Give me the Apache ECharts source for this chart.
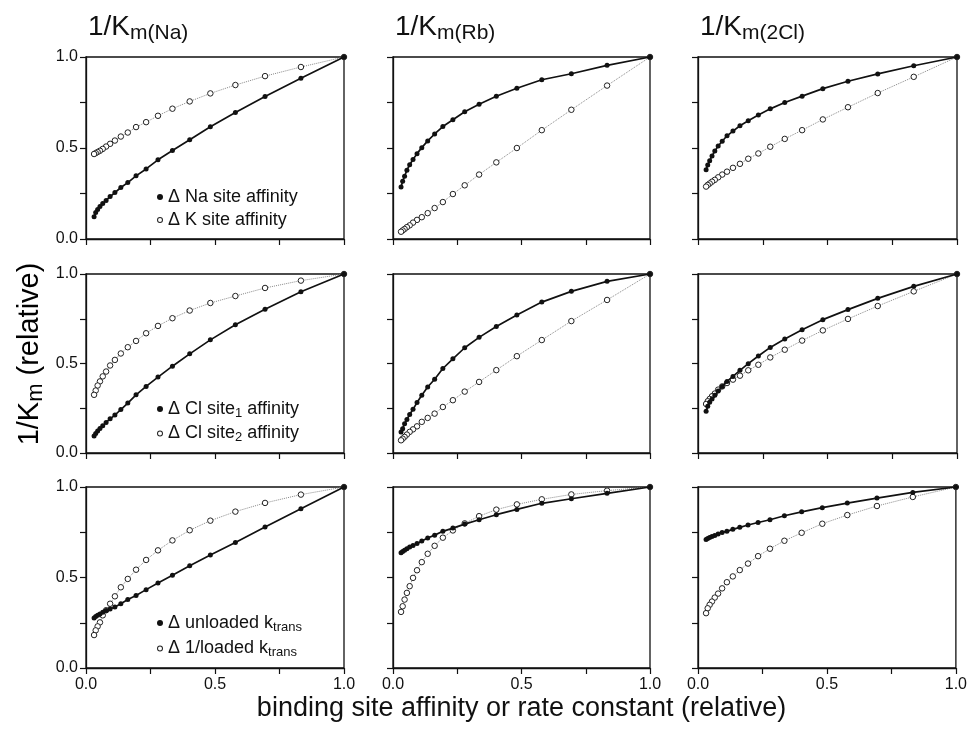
<!DOCTYPE html>
<html><head><meta charset="utf-8">
<script src="https://cdn.jsdelivr.net/npm/echarts@6/dist/echarts.min.js"></script>
<style>html,body{margin:0;padding:0;background:#fff}#c{width:970px;height:734px}</style>
</head><body><div id="c"></div><script>
// ---- data ----
const xVals = [1, 0.833, 0.694, 0.579, 0.482, 0.402, 0.335, 0.279, 0.233, 0.194, 0.162, 0.135, 0.112, 0.0935, 0.0779, 0.0649, 0.0541, 0.0451, 0.0376, 0.0313];
const colTitles = ['Na', 'Rb', '2Cl'];
const tickLabels = ['0.0', '0.5', '1.0'];
const rowSeriesNames = [
  ['Δ Na site affinity', 'Δ K site affinity'],
  ['Δ Cl site1 affinity', 'Δ Cl site2 affinity'],
  ['Δ unloaded ktrans', 'Δ 1/loaded ktrans']
];
// row 1
const r1c1Filled = [1.0,.883,.783,.695,.617,.545,.486,.435,.385,.347,.310,.283,.255,.233,.212,.195,.178,.162,.146,.122];
const r1c1Open   = [1.0,.945,.895,.846,.800,.756,.716,.677,.642,.615,.585,.563,.541,.523,.508,.495,.485,.478,.472,.467];
const r1c2Filled = [1.0,.954,.908,.875,.828,.784,.740,.699,.655,.618,.577,.539,.502,.469,.437,.408,.378,.345,.317,.286];
const r1c2Open   = [1.0,.843,.710,.598,.500,.421,.354,.295,.247,.203,.170,.142,.120,.105,.090,.075,.065,.055,.047,.040];
const r1c3Filled = [1.0,.952,.907,.867,.826,.785,.750,.715,.681,.650,.622,.593,.567,.537,.511,.483,.456,.430,.407,.381];
const r1c3Open   = [1.0,.891,.802,.724,.657,.598,.550,.507,.470,.441,.413,.391,.370,.354,.339,.325,.315,.305,.297,.288];
// row 2
const r2c1Filled = [1.0,.901,.803,.716,.632,.554,.485,.424,.372,.325,.279,.243,.212,.191,.171,.152,.137,.123,.109,.095];
const r2c1Open   = [1.0,.963,.922,.877,.838,.796,.753,.710,.669,.626,.591,.556,.520,.489,.455,.428,.400,.377,.349,.325];
const r2c2Filled = [1.0,.959,.903,.843,.771,.707,.646,.588,.526,.472,.412,.369,.323,.282,.244,.215,.187,.164,.136,.118];
const r2c2Open   = [1.0,.855,.737,.631,.541,.463,.397,.343,.295,.257,.220,.196,.174,.149,.132,.118,.103,.090,.080,.071];
const r2c3Filled = [1.0,.931,.864,.801,.745,.689,.637,.590,.542,.499,.462,.428,.400,.372,.346,.322,.302,.283,.261,.233];
const r2c3Open   = [1.0,.903,.821,.749,.685,.628,.577,.534,.493,.462,.432,.410,.391,.372,.354,.332,.317,.302,.289,.274];
// row 3
const r3c1Filled = [1.0,.880,.779,.694,.624,.565,.512,.470,.433,.401,.378,.355,.337,.326,.317,.308,.298,.291,.285,.276];
const r3c1Open   = [1.0,.958,.912,.864,.814,.761,.705,.650,.597,.543,.492,.446,.396,.355,.319,.291,.252,.230,.208,.182];
const r3c2Filled = [1.0,.965,.935,.910,.876,.847,.819,.795,.773,.755,.734,.718,.701,.688,.677,.668,.659,.651,.644,.637];
const r3c2Open   = [1.0,.980,.959,.932,.904,.875,.839,.799,.760,.720,.675,.631,.585,.540,.498,.452,.415,.378,.341,.310];
const r3c3Filled = [1.0,.970,.939,.911,.886,.863,.841,.819,.804,.790,.777,.766,.755,.749,.740,.732,.727,.721,.716,.710];
const r3c3Open   = [1.0,.945,.895,.845,.797,.747,.703,.659,.618,.577,.541,.506,.474,.440,.411,.389,.367,.349,.330,.303];

const panels = [
  [[r1c1Filled, r1c1Open], [r1c2Filled, r1c2Open], [r1c3Filled, r1c3Open]],
  [[r2c1Filled, r2c1Open], [r2c2Filled, r2c2Open], [r2c3Filled, r2c3Open]],
  [[r3c1Filled, r3c1Open], [r3c2Filled, r3c2Open], [r3c3Filled, r3c3Open]]
];

// ---- layout ----
const FONT = '"Liberation Sans", Arial, Helvetica, sans-serif';
const INK = '#111';
const colLefts = [86, 393, 698], colWidths = [258, 257, 259];
const rowTops = [57, 274, 487], rowHeights = [182, 179, 181];
const legendTops = [188, 400, 614];
const legendGaps = [5, 5, 6];
const RING = 'path://M0,5a5,5 0 1,0 10,0a5,5 0 1,0 -10,0zM1.7,5a3.3,3.3 0 1,1 6.6,0a3.3,3.3 0 1,1 -6.6,0z';

const labelFmt = v => {
  const k = Math.round(v * 2);
  return Math.abs(v * 2 - k) < 1e-6 ? tickLabels[k] : '';
};

const grid = [], xAxis = [], yAxis = [], series = [];
for (let r = 0; r < 3; r++) {
  for (let c = 0; c < 3; c++) {
    const i = r * 3 + c;
    grid.push({left: colLefts[c], top: rowTops[r], width: colWidths[c], height: rowHeights[r],
      show: true, borderColor: INK, borderWidth: 1.3, backgroundColor: 'rgba(0,0,0,0)'});
    const axisCommon = {
      gridIndex: i, type: 'value', min: 0, max: 1, interval: 0.25,
      axisLine: {show: true, onZero: false, lineStyle: {color: INK, width: 1.3}},
      axisTick: {show: true, inside: false, length: 6, lineStyle: {color: INK, width: 1.2}},
      splitLine: {show: false}
    };
    const xa = Object.assign({}, axisCommon, {
      axisLabel: {show: r === 2, margin: 9, fontSize: 16, color: INK, fontFamily: FONT, formatter: labelFmt}
    });
    if (r === 2 && c === 1) {
      Object.assign(xa, {name: 'binding site affinity or rate constant (relative)', nameLocation: 'middle', nameGap: 27,
        nameTextStyle: {fontSize: 27, color: INK, fontFamily: FONT}});
    }
    xAxis.push(xa);
    yAxis.push(Object.assign({}, axisCommon, {
      axisLabel: {show: c === 0, margin: 8, fontSize: 16, color: INK, fontFamily: FONT, formatter: labelFmt}
    }));
    const [filled, open] = panels[r][c];
    series.push({
      name: rowSeriesNames[r][1], type: 'line', xAxisIndex: i, yAxisIndex: i, z: 2,
      data: xVals.map((x, k) => [x, open[k]]),
      symbol: 'circle', symbolSize: 5.5, showSymbol: true, showAllSymbol: true,
      itemStyle: {color: '#fff', borderColor: '#222', borderWidth: 1},
      lineStyle: {color: '#888', width: 1, type: 'dotted'}
    });
    series.push({
      name: rowSeriesNames[r][0], type: 'line', xAxisIndex: i, yAxisIndex: i, z: 3,
      data: xVals.map((x, k) => [x, filled[k]]),
      symbol: 'circle', symbolSize: 5, showSymbol: true, showAllSymbol: true,
      itemStyle: {color: INK},
      lineStyle: {color: INK, width: 1.7}
    });
  }
}

const legendRich = {
  'Δ Na site affinity': '{t|Δ Na site affinity}',
  'Δ K site affinity': '{t|Δ K site affinity}',
  'Δ Cl site1 affinity': '{t|Δ Cl site}{s|1}{t| affinity}',
  'Δ Cl site2 affinity': '{t|Δ Cl site}{s|2}{t| affinity}',
  'Δ unloaded ktrans': '{t|Δ unloaded k}{s|trans}',
  'Δ 1/loaded ktrans': '{t|Δ 1/loaded k}{s|trans}'
};
const legend = rowSeriesNames.map((names, r) => ({
  left: 157, top: legendTops[r], orient: 'vertical', itemGap: legendGaps[r], itemWidth: 6, itemHeight: 6, padding: 0,
  selectedMode: false,
  data: [
    {name: names[0], icon: 'circle', itemStyle: {color: INK, borderWidth: 0}},
    {name: names[1], icon: RING, itemStyle: {color: '#222', borderWidth: 0}}
  ],
  formatter: n => legendRich[n],
  textStyle: {fontSize: 18, color: INK, fontFamily: FONT,
    rich: {t: {fontSize: 18, color: INK, fontFamily: FONT, verticalAlign: 'middle'},
           s: {fontSize: 13, color: INK, fontFamily: FONT, padding: [8, 0, 0, 0], verticalAlign: 'middle'}}}
}));

const titleRichStyle = {
  a: {fontSize: 28, lineHeight: 30, color: INK, fontFamily: FONT, fontWeight: 'normal', verticalAlign: 'middle'},
  b: {fontSize: 21, lineHeight: 21, color: INK, fontFamily: FONT, fontWeight: 'normal', padding: [12, 0, 0, 0], verticalAlign: 'middle'}
};
const yTitleRich = {
  a: {fontSize: 29, lineHeight: 31, color: INK, fontFamily: FONT, fontWeight: 'normal', verticalAlign: 'middle'},
  b: {fontSize: 22, lineHeight: 22, color: INK, fontFamily: FONT, fontWeight: 'normal', padding: [12, 0, 0, 0], verticalAlign: 'middle'}
};
const title = colTitles.map((t, c) => ({
  text: '{a|1/K}{b|m(' + t + ')}', left: colLefts[c] + 2, top: 12, padding: 0,
  textStyle: {fontWeight: 'normal', rich: titleRichStyle}
}));

const chart = echarts.init(document.getElementById('c'), null, {renderer: 'canvas'});
chart.setOption({
  animation: false,
  backgroundColor: '#fff',
  textStyle: {fontFamily: FONT},
  title, legend, grid, xAxis, yAxis, series,
  graphic: [{
    type: 'text', x: 30, y: 354, rotation: Math.PI / 2, silent: true,
    style: {
      text: '{a|1/K}{b|m}{a| (relative)}', align: 'center', verticalAlign: 'middle',
      rich: yTitleRich
    }
  }]
});
</script></body></html>
